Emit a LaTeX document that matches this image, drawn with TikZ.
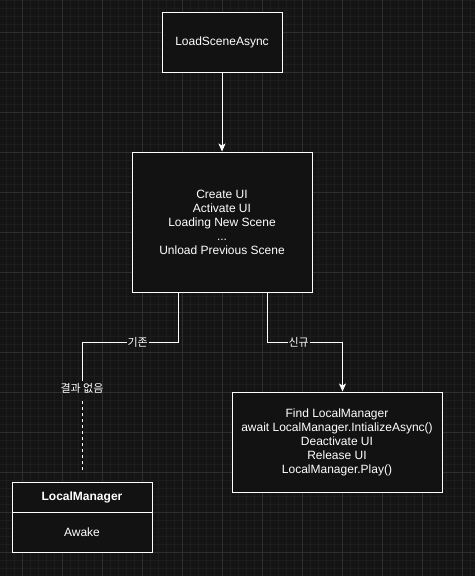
\documentclass[tikz,border=0pt]{standalone}
\usepackage{fontspec}
\setmainfont{Liberation Sans}
\newfontfamily\kr{Noto Sans CJK KR}
\usetikzlibrary{arrows.meta, positioning, calc}
\definecolor{Canvas}{HTML}{141414}
\definecolor{BoxFill}{HTML}{121212}
\definecolor{GridMajor}{HTML}{2E2E2E}
\definecolor{GridMinor}{HTML}{1C1C1C}
\definecolor{Ink}{HTML}{FFFFFF}

\begin{document}
\begin{tikzpicture}[
            x=1pt, y=-1pt,
            box/.style={
                rectangle,
                draw=Ink,
                fill=BoxFill,
                line width=1pt,
                align=center,
                inner sep=0pt,
                font=\fontsize{12}{14}\selectfont,
                text=Ink
            },
            wire/.style={line width=1pt, color=Ink},
            arrow/.style={wire, -{Stealth[length=8pt, width=7pt, inset=2pt]}},
            tag/.style={font=\kr\fontsize{11}{13}\selectfont, text=Ink, fill=Canvas, inner sep=1pt},
            majorgrid/.style={GridMajor, line width=0.8pt},
            minorgrid/.style={GridMinor, line width=0.6pt}
        ]
            % Canvas and grid
            \fill[Canvas] (0,0) rectangle (475,576);
            \useasboundingbox (0,0) rectangle (475,576);
            \foreach \gx in {6,14,...,470} \draw[minorgrid] (\gx,0) -- (\gx,576);
            \foreach \gy in {0,8,...,576} \draw[minorgrid] (0,\gy) -- (475,\gy);
            \foreach \gx in {22,62,...,462} \draw[majorgrid] (\gx,0) -- (\gx,576);
            \foreach \gy in {32,72,...,552} \draw[majorgrid] (0,\gy) -- (475,\gy);

            % Boxes
            \node[box, minimum width=120, minimum height=60] (load) at (222,42) {LoadSceneAsync};
            \node[box, minimum width=180, minimum height=140] (scene) at (222,222)
                {Create UI\\Activate UI\\Loading New Scene\\...\\Unload Previous Scene};
            \node[box, minimum width=210, minimum height=100] (final) at (337,442)
                {Find LocalManager\\await LocalManager.IntializeAsync()\\Deactivate UI\\Release UI\\LocalManager.Play()};
            \node[box, minimum width=140, minimum height=30, font=\bfseries\fontsize{12}{14}\selectfont] (lmhead) at (82,497) {LocalManager};
            \node[box, minimum width=140, minimum height=40, below=-1pt of lmhead] (lmbody) {Awake};

            \node[tag, fill=none, inner sep=2pt] (noresult) at (82,388) {결과 없음};
            \coordinate (lmtop) at (82,472);

            % Connectors
            \draw[arrow] (load) -- (scene);
            \draw[wire] ([xshift=-44pt]scene.south) -- ++(0,50) -| node[tag, pos=0.21]{기존} (noresult.north);
            \draw[wire, dash pattern=on 3pt off 3pt] ([yshift=-6pt]noresult.south) -- (lmtop);
            \draw[arrow] ([xshift=45pt]scene.south) -- ++(0,50) -| node[tag, pos=0.21]{신규} ([xshift=5.5pt]final.north);
        \end{tikzpicture}
\end{document}
